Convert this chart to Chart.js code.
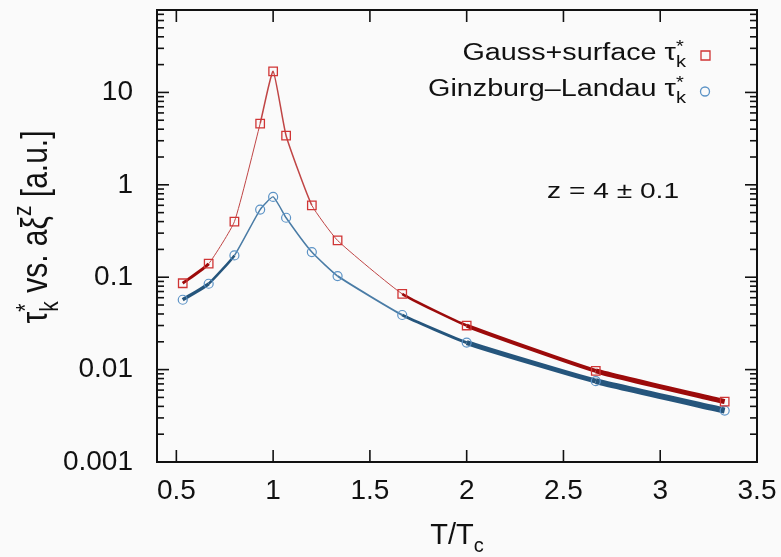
<!DOCTYPE html>
<html>
<head>
<meta charset="utf-8">
<script src="https://cdn.jsdelivr.net/npm/chart.js@4.4.0/dist/chart.umd.min.js"></script>
<style>
  html, body { margin: 0; padding: 0; background: #fafafa; }
  #wrap { width: 781px; height: 557px; }
</style>
</head>
<body>
<div id="wrap"><canvas id="chart" width="781" height="557"></canvas></div>
<script>
// T/Tc values of the simulated temperatures
const tRatio = [0.533, 0.667, 0.8, 0.933, 1.0, 1.067, 1.2, 1.333, 1.667, 2.0, 2.667, 3.333];

// relaxation time estimates
const gaussSurface = [0.086, 0.14, 0.40, 4.6, 16.9, 3.4, 0.60, 0.25, 0.066, 0.030, 0.0097, 0.0045];
const ginzburgLandau = [0.057, 0.085, 0.172, 0.54, 0.74, 0.44, 0.187, 0.103, 0.039, 0.0196, 0.0075, 0.0036];

// axis ticks
const xTicks = [0.5, 1, 1.5, 2, 2.5, 3, 3.5];
const yTicks = [0.001, 0.01, 0.1, 1, 10];

// the curves are a bundle of fits, so the line gets thicker where they spread
const redWidths = [3, 1, 1, 1.5, 1.5, 1.5, 1, 1, 2.5, 4, 5];
const blueWidths = [3.5, 2.5, 1.5, 1.5, 1.5, 1.5, 1.5, 2, 3, 5, 6];

const FONT = "'Liberation Sans', Arial, Helvetica, sans-serif";

function toPoints(ys) {
    return tRatio.map((t, i) => ({ x: t, y: ys[i] }));
}

// draws text made of pieces (sub / superscripts); the original figure was
// stretched, so sx / sy squash the glyphs the same way
function richText(ctx, parts, x, y, align, sx, sy) {
    let width = 0;
    let cx = 0;
    const pos = [];
    parts.forEach(p => {
        ctx.font = p.size + "px " + FONT;
        const w = ctx.measureText(p.t).width;
        if (p.stack) cx = pos[pos.length - 1];
        pos.push(cx);
        cx += w;
        width = Math.max(width, cx);
    });
    let start = 0;
    if (align === "center") start = -width / 2;
    if (align === "right") start = -width;
    ctx.save();
    ctx.translate(x, y);
    ctx.scale(sx || 1, sy || 1);
    ctx.textAlign = "left";
    ctx.textBaseline = "alphabetic";
    parts.forEach((p, i) => {
        ctx.font = p.size + "px " + FONT;
        ctx.fillText(p.t, start + pos[i], p.dy || 0);
    });
    ctx.restore();
}

function tauParts(size) {
    return [
        { t: "\u03c4", size: size },
        { t: "*", size: size * 0.7, dy: -size * 0.35 },
        { t: "k", size: size * 0.7, dy: size * 0.3, stack: true }
    ];
}

const decorations = {
    id: "decorations",
    beforeDraw(chart) {
        const ctx = chart.ctx;
        ctx.save();
        ctx.fillStyle = "#fafafa";
        ctx.fillRect(0, 0, chart.width, chart.height);
        ctx.restore();
    },
    afterDraw(chart) {
        const { ctx, chartArea: a, scales: { x, y } } = chart;
        ctx.save();
        ctx.strokeStyle = "#111";
        ctx.lineWidth = 2;
        ctx.strokeRect(a.left, a.top, a.right - a.left, a.bottom - a.top);

        const seg = (x1, y1, x2, y2) => {
            ctx.beginPath();
            ctx.moveTo(x1, y1);
            ctx.lineTo(x2, y2);
            ctx.stroke();
        };
        ctx.lineWidth = 1.6;
        xTicks.forEach(v => {
            const px = x.getPixelForValue(v);
            seg(px, a.bottom, px, a.bottom - 12);
            seg(px, a.top, px, a.top + 12);
        });
        for (let e = -3; e <= 1; e++) {
            for (let m = 1; m <= 9; m++) {
                const v = m * Math.pow(10, e);
                if (v > y.max) break;
                const py = y.getPixelForValue(v);
                const len = m === 1 ? 12 : 7;
                seg(a.left, py, a.left + len, py);
                seg(a.right, py, a.right - len, py);
            }
        }

        ctx.fillStyle = "#111";
        // x title
        richText(ctx, [
            { t: "T/T", size: 29 },
            { t: "c", size: 20, dy: 8 }
        ], (a.left + a.right) / 2, 544, "center");

        // y title (rotated, glyphs stretched across the line)
        ctx.save();
        ctx.translate(47, 227);
        ctx.rotate(-Math.PI / 2);
        richText(ctx, tauParts(30).concat([
            { t: " vs. a\u03be", size: 30 },
            { t: "z", size: 21, dy: -13 },
            { t: " [a.u.]", size: 30 }
        ]), 0, 0, "center", 1, 1.2);
        ctx.restore();

        // legend
        const rows = [
            { label: "Gauss+surface ", y: 60, ds: 0 },
            { label: "Ginzburg\u2013Landau ", y: 96, ds: 1 }
        ];
        rows.forEach(r => {
            ctx.fillStyle = "#111";
            richText(ctx, [{ t: r.label, size: 23 }].concat(tauParts(23)), 686, r.y, "right", 1.25, 1);
            const ds = chart.data.datasets[r.ds];
            ctx.strokeStyle = ds.pointBorderColor;
            ctx.lineWidth = 1.3;
            ctx.beginPath();
            if (r.ds === 0) ctx.rect(701, r.y - 9, 9, 9);
            else ctx.arc(705, r.y - 4.5, 4.5, 0, Math.PI * 2);
            ctx.stroke();
        });

        // annotation
        ctx.fillStyle = "#111";
        richText(ctx, [{ t: "z = 4 \u00b1 0.1", size: 22 }], 547, 198, "left", 1.28, 1);
        ctx.restore();
    }
};

new Chart(document.getElementById("chart"), {
    type: "line",
    data: {
        datasets: [
            {
                label: "Gauss+surface",
                data: toPoints(gaussSurface),
                borderColor: "#a01010",
                pointBorderColor: "#d03535",
                pointBackgroundColor: "rgba(0,0,0,0)",
                pointStyle: "rect",
                pointRadius: 6,
                pointBorderWidth: 1.3,
                tension: 0.15,
                segment: {
                    borderWidth: c => redWidths[c.p0DataIndex],
                    borderColor: c => redWidths[c.p0DataIndex] >= 2.5 ? "#9c0a0a" : "#c04545"
                }
            },
            {
                label: "Ginzburg-Landau",
                data: toPoints(ginzburgLandau),
                borderColor: "#26577e",
                pointBorderColor: "#5c93c6",
                pointBackgroundColor: "rgba(0,0,0,0)",
                pointStyle: "circle",
                pointRadius: 4.5,
                pointBorderWidth: 1.2,
                tension: 0.15,
                segment: {
                    borderWidth: c => blueWidths[c.p0DataIndex],
                    borderColor: c => blueWidths[c.p0DataIndex] >= 2.5 ? "#25557c" : "#4a7ca6"
                }
            }
        ]
    },
    options: {
        responsive: false,
        animation: false,
        layout: { padding: { top: 10, right: 24, left: 0, bottom: 0 } },
        plugins: { legend: { display: false }, tooltip: { enabled: false } },
        scales: {
            x: {
                type: "linear",
                min: 0.4,
                max: 3.5,
                afterBuildTicks: s => { s.ticks = xTicks.map(v => ({ value: v })); },
                afterFit: s => { s.height = 95; s.paddingLeft = 0; s.paddingRight = 0; },
                grid: { display: false, drawTicks: false },
                border: { display: false },
                ticks: {
                    padding: 12,
                    color: "#111",
                    font: { family: FONT, size: 28 },
                    maxRotation: 0,
                    callback: v => String(v)
                }
            },
            y: {
                type: "logarithmic",
                min: 0.001,
                max: 78,
                afterBuildTicks: s => { s.ticks = yTicks.map(v => ({ value: v })); },
                afterFit: s => { s.width = 157; s.paddingTop = 0; s.paddingBottom = 0; },
                grid: { display: false, drawTicks: false },
                border: { display: false },
                ticks: {
                    padding: 24,
                    color: "#111",
                    font: { family: FONT, size: 28 },
                    callback: v => String(v)
                }
            }
        }
    },
    plugins: [decorations]
});
</script>
</body>
</html>
